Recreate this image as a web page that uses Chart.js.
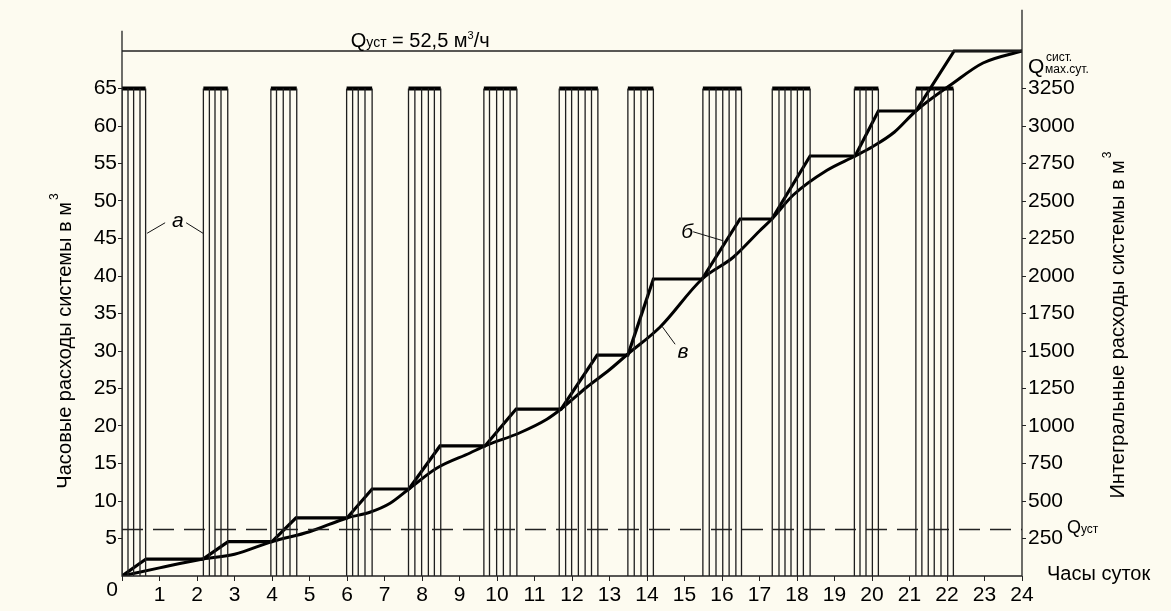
<!DOCTYPE html>
<html>
<head>
<meta charset="utf-8">
<script src="https://cdn.jsdelivr.net/npm/chart.js@4"></script>
<style>
  html, body { margin: 0; padding: 0; background: #fdfbf0; }
  canvas { display: block; }
</style>
</head>
<body>
<canvas id="chart" width="1171" height="611"></canvas>
<script>
// Pump run periods, hours of each hatch line
const pumpRuns = [
    [0, 0.16, 0.31, 0.48, 0.63],
    [2.17, 2.33, 2.48, 2.64, 2.82],
    [3.97, 4.12, 4.30, 4.48, 4.66],
    [5.99, 6.15, 6.30, 6.48, 6.67],
    [7.64, 7.81, 7.99, 8.17, 8.33, 8.50],
    [9.65, 9.80, 9.99, 10.17, 10.35, 10.53],
    [11.66, 11.83, 11.99, 12.17, 12.35, 12.52, 12.69],
    [13.49, 13.66, 13.84, 14.01, 14.17],
    [15.49, 15.66, 15.84, 16.02, 16.19, 16.37, 16.52],
    [17.34, 17.52, 17.68, 17.84, 18.01, 18.17, 18.35],
    [19.53, 19.68, 19.84, 20.01, 20.17],
    [21.17, 21.33, 21.50, 21.66, 21.84, 22.02, 22.17]
];
const hatchHeight = 65;        // hourly flow, m3 (left axis)
const qMaxLevel = 70;          // Q уст = 52,5 м3/ч line (left axis units)
const qUstLevel = 6.2;         // dashed Q уст (left axis units)

// б - pump supply, cumulative m3 (right axis)
const stepHours   = [0, 0.64, 2.16, 2.83, 4.0, 4.64, 6.0, 6.67, 7.65, 8.48, 9.68, 10.51, 11.71, 12.67, 13.49, 14.17, 15.47, 16.48, 17.33, 18.35, 19.55, 20.17, 21.17, 22.19, 24];
const stepVolumes = [0, 113, 113, 229, 229, 387, 387, 580, 580, 867, 867, 1113, 1113, 1473, 1473, 1980, 1980, 2380, 2380, 2800, 2800, 3100, 3100, 3500, 3500];

// в - consumption, cumulative m3 (right axis)
const curveHours   = [0, 1, 2.16, 3, 4.0, 5, 6.0, 6.61, 7.15, 7.65, 8.4, 9.28, 9.68, 10.61, 11.33, 11.71, 12.4, 13.0, 13.49, 14.35, 15.47, 16.3, 17.0, 17.33, 17.9, 18.8, 19.55, 20.0, 20.6, 21.17, 22.16, 22.96, 24];
const curveVolumes = [0, 54, 113, 145, 229, 295, 387, 425, 485, 580, 720, 820, 867, 955, 1045, 1113, 1260, 1375, 1480, 1660, 1980, 2125, 2300, 2380, 2540, 2705, 2800, 2860, 2960, 3100, 3285, 3420, 3500];

const leftTicks  = [5, 10, 15, 20, 25, 30, 35, 40, 45, 50, 55, 60, 65];
const rightTicks = [250, 500, 750, 1000, 1250, 1500, 1750, 2000, 2250, 2500, 2750, 3000, 3250];

const FONT = '"Liberation Sans", Arial, sans-serif';
const INK = '#000';

const hatchData = [];
pumpRuns.forEach(run => run.forEach(h => {
    hatchData.push({x: h, y: 0}, {x: h, y: hatchHeight}, {x: h, y: null});
}));
const capData = [];
pumpRuns.forEach(run => {
    capData.push({x: run[0], y: hatchHeight}, {x: run[run.length - 1], y: hatchHeight}, {x: run[0], y: null});
});

// Draw axis lines, titles and labels on top of the chart
const annotations = {
    id: 'annotations',
    afterDraw(chart) {
        const ctx = chart.ctx;
        const x = chart.scales.x, y = chart.scales.y;
        const px = h => x.getPixelForValue(h);
        const py = v => y.getPixelForValue(v);
        ctx.save();
        ctx.strokeStyle = '#222';
        ctx.lineWidth = 1.3;
        ctx.beginPath();
        ctx.moveTo(px(0), py(72.7)); ctx.lineTo(px(0), py(0)); ctx.lineTo(px(24), py(0));
        ctx.moveTo(px(24), py(0)); ctx.lineTo(px(24), py(75.5));
        ctx.stroke();

        ctx.fillStyle = INK;
        ctx.textBaseline = 'alphabetic';
        ctx.textAlign = 'left';

        // zero label
        ctx.font = '21px ' + FONT;
        ctx.textAlign = 'center';
        ctx.fillText('0', px(0) - 10, 596);
        ctx.textAlign = 'left';

        // Q уст = 52,5 м³/ч
        let cx = px(6.1), by = py(qMaxLevel) - 4;
        ctx.font = '20px ' + FONT; ctx.fillText('Q', cx, by); cx += ctx.measureText('Q').width;
        ctx.font = '14px ' + FONT; ctx.fillText('уст', cx, by); cx += ctx.measureText('уст').width;
        ctx.font = '20px ' + FONT; ctx.fillText(' = 52,5 м', cx, by); cx += ctx.measureText(' = 52,5 м').width;
        ctx.font = '11px ' + FONT; ctx.fillText('3', cx, by - 8); cx += ctx.measureText('3').width;
        ctx.font = '20px ' + FONT; ctx.fillText('/ч', cx, by);

        // Q сист. мах.сут.
        cx = px(24) + 6; by = py(qMaxLevel) + 22;
        ctx.font = '21px ' + FONT; ctx.fillText('Q', cx, by);
        ctx.font = '12px ' + FONT;
        ctx.fillText('сист.', cx + 18, by - 12);
        ctx.fillText('мах.сут.', cx + 17, by);

        // Q уст near dashed line
        cx = px(24) + 45; by = py(qUstLevel) + 3;
        ctx.font = '18px ' + FONT; ctx.fillText('Q', cx, by); cx += ctx.measureText('Q').width;
        ctx.font = '12px ' + FONT; ctx.fillText('уст', cx, by);

        // x axis title
        ctx.font = '20px ' + FONT;
        ctx.fillText('Часы суток', px(24) + 25, 580);

        // rotated axis titles
        const vertTitle = (text, xc, yc) => {
            ctx.save();
            ctx.translate(xc, yc);
            ctx.rotate(-Math.PI / 2);
            ctx.font = '20px ' + FONT;
            const w = ctx.measureText(text).width;
            ctx.font = '12px ' + FONT;
            const sw = ctx.measureText('3').width;
            const start = -(w + sw) / 2;
            ctx.font = '20px ' + FONT;
            ctx.textAlign = 'left';
            ctx.fillText(text, start, 7);
            ctx.font = '12px ' + FONT;
            ctx.fillText('3', start + w + 2, -6);
            ctx.restore();
        };
        vertTitle('Часовые расходы системы в м', 64, 342);
        vertTitle('Интегральные расходы системы в м', 1117, 326);

        // curve labels а, б, в with leaders
        ctx.font = 'italic 21px ' + FONT;
        ctx.textAlign = 'center';
        ctx.textBaseline = 'middle';
        ctx.fillText('а', px(1.49), py(47.3));
        ctx.fillText('б', px(15.07), py(45.8));
        ctx.fillText('в', px(14.96), py(29.8));
        ctx.lineWidth = 1;
        ctx.strokeStyle = '#111';
        ctx.beginPath();
        ctx.moveTo(px(0.67), py(45.7)); ctx.lineTo(px(1.15), py(47.1));
        ctx.moveTo(px(1.71), py(47.1)); ctx.lineTo(px(2.16), py(45.7));
        ctx.moveTo(px(15.23), py(45.9)); ctx.lineTo(px(16.03), py(44.7));
        ctx.moveTo(px(14.75), py(30.9)); ctx.lineTo(px(14.40), py(33.3));
        ctx.stroke();
        ctx.restore();
    }
};

const noPadV = s => { s.paddingTop = 0; s.paddingBottom = 0; };

const ctx = document.getElementById('chart').getContext('2d');
new Chart(ctx, {
    type: 'line',
    data: {
        datasets: [
            {
                label: 'а',
                data: hatchData,
                yAxisID: 'y',
                borderColor: '#1e1e1e',
                borderWidth: 1.3,
                pointRadius: 0,
                spanGaps: false
            },
            {
                label: 'caps',
                data: capData,
                yAxisID: 'y',
                borderColor: INK,
                borderWidth: 4,
                pointRadius: 0,
                spanGaps: false
            },
            {
                label: 'Q уст = 52,5',
                data: [{x: 0, y: qMaxLevel}, {x: 24, y: qMaxLevel}],
                yAxisID: 'y',
                borderColor: '#222',
                borderWidth: 1.3,
                pointRadius: 0
            },
            {
                label: 'Q уст',
                data: [{x: 0, y: qUstLevel}, {x: 24, y: qUstLevel}],
                yAxisID: 'y',
                borderColor: '#222',
                borderWidth: 1.3,
                borderDash: [21, 10],
                pointRadius: 0
            },
            {
                label: 'б',
                data: stepHours.map((h, i) => ({x: h, y: stepVolumes[i]})),
                yAxisID: 'y2',
                borderColor: INK,
                borderWidth: 3.2,
                pointRadius: 0,
                tension: 0
            },
            {
                label: 'в',
                data: curveHours.map((h, i) => ({x: h, y: curveVolumes[i]})),
                yAxisID: 'y2',
                borderColor: INK,
                borderWidth: 3,
                pointRadius: 0,
                cubicInterpolationMode: 'monotone'
            }
        ]
    },
    options: {
        responsive: false,
        animation: false,
        layout: { padding: 0 },
        plugins: {
            legend: { display: false },
            tooltip: { enabled: false }
        },
        scales: {
            x: {
                type: 'linear',
                min: 0,
                max: 24,
                border: { display: false },
                grid: { drawOnChartArea: false, tickLength: 5, color: '#222' },
                ticks: {
                    stepSize: 1,
                    autoSkip: false,
                    maxRotation: 0,
                    padding: 2,
                    color: INK,
                    font: { family: FONT, size: 21 },
                    callback: v => (v === 0 ? '' : String(v))
                },
                afterFit: s => { s.height = 35; s.paddingLeft = 0; s.paddingRight = 0; }
            },
            y: {
                position: 'left',
                min: 0,
                max: 76.8,
                border: { display: false },
                grid: { drawOnChartArea: false, tickLength: 4, color: '#222' },
                ticks: { padding: 1, color: INK, font: { family: FONT, size: 21 }, callback: v => String(v) },
                afterBuildTicks: s => { s.ticks = leftTicks.map(v => ({value: v})); },
                afterFit: s => { s.width = 122; noPadV(s); }
            },
            y2: {
                position: 'right',
                min: 0,
                max: 3840,
                border: { display: false },
                grid: { drawOnChartArea: false, tickLength: 4, color: '#222' },
                ticks: { padding: 2, color: INK, font: { family: FONT, size: 21 }, callback: v => String(v) },
                afterBuildTicks: s => { s.ticks = rightTicks.map(v => ({value: v})); },
                afterFit: s => { s.width = 149; noPadV(s); }
            }
        }
    },
    plugins: [annotations]
});
</script>
</body>
</html>
